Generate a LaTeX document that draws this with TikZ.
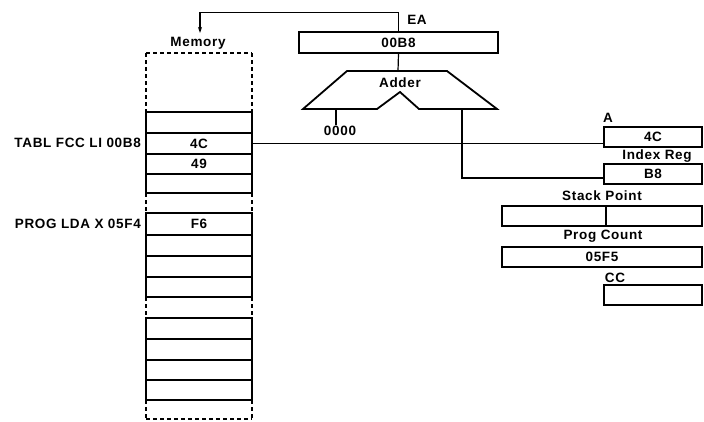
\documentclass[tikz,border=0pt]{standalone}
\usepackage{fontspec}
\setmainfont{Liberation Sans}[LetterSpace=5]
\usetikzlibrary{arrows.meta}
\begin{document}
\begin{tikzpicture}[x=1pt,y=-1pt,
  box/.style={draw, line width=1.6pt, rectangle, inner sep=0pt, font=\fontsize{13.5}{15}\selectfont\bfseries},
  lbl/.style={font=\fontsize{13.5}{15}\selectfont\bfseries, inner sep=0pt},
  wire/.style={line width=1.2pt},
  dashline/.style={line width=1.6pt, dash pattern=on 4pt off 3pt}]
\useasboundingbox (0,0) rectangle (704,421);
% ---------- memory ----------
\foreach \n/\t/\b/\txt in {m1/112/133/, m2/133/154/4C, m3/154/174/49, m4/174/193/,
  m5/213/235/F6, m6/235/256/, m7/256/277/, m8/277/297/,
  m9/318/339/, m10/339/360/, m11/360/380/, m12/380/400/}
  \node[box, minimum width=106pt, minimum height={\b-\t}] (\n) at (199,{(\t+\b)/2}) {\txt};
\draw[dashline] (146,53) -- (252,53);
\draw[dashline] (146,53) -- (146,112) (252,53) -- (252,112);
\draw[dashline] (146,193) -- (146,213) (252,193) -- (252,213);
\draw[dashline] (146,297) -- (146,318) (252,297) -- (252,318);
\draw[dashline] (146,400) -- (146,419) (252,400) -- (252,419);
\draw[dashline] (146,419) -- (252,419);
\node[lbl] (memlbl) at (198,43) {Memory};
\node[lbl, anchor=east] (tabl) at (141,143) {TABL FCC LI 00B8};
\node[lbl, anchor=east] (prog) at (141,224) {PROG LDA X 05F4};
% ---------- EA ----------
\node[box, minimum width=199pt, minimum height=21pt] (ea) at (398.5,42.5) {00B8};
\node[lbl] (ealbl) at (417,20) {EA};
\coordinate (memtop) at (200,33);
\draw[wire, -{Stealth[length=6pt,width=4pt]}] (ea.north) -- ++(0,-19) -| (memtop);
% ---------- adder ----------
\draw[line width=1.8pt, line join=miter] (303,109) -- (347,71) -- (447,71) -- (497,109)
  -- (419,109) -- (400,92) -- (377,109) -- cycle;
\node[lbl] (adderlbl) at (400,83) {Adder};
\coordinate (addtop) at (398,71);
\coordinate (addl) at (336,109);
\coordinate (addr) at (462,109);
\coordinate (ixin) at (604,178);
\draw[wire] (ea.south) -- (addtop);
\draw[wire] (addl) -- ++(0,16) coordinate (zero);
\node[lbl, anchor=north] (zerolbl) at (340,126) {0000};
% ---------- registers ----------
\node[box, minimum width=98pt, minimum height=20pt] (ra) at (653,137) {4C};
\node[lbl] (albl) at (608,118) {A};
\node[box, minimum width=98pt, minimum height=20pt] (ix) at (653,174) {B8};
\node[lbl] (ixlbl) at (657,156) {Index Reg};
\node[box, minimum width=200pt, minimum height=20pt] (sp) at (602,216) {};
\draw[line width=1.6pt] (606,206) -- (606,226);
\node[lbl] (splbl) at (602,196) {Stack Point};
\node[box, minimum width=200pt, minimum height=20pt] (pc) at (602,257) {05F5};
\node[lbl] (pclbl) at (603,236) {Prog Count};
\node[box, minimum width=98pt, minimum height=20pt] (cc) at (653,295) {};
\node[lbl] (cclbl) at (615,278) {CC};
% ---------- connectors ----------
\draw[wire] (m2.east) -- (ra.west |- m2.east);
\draw[wire] (addr) |- (ixin);
\end{tikzpicture}
\end{document}
